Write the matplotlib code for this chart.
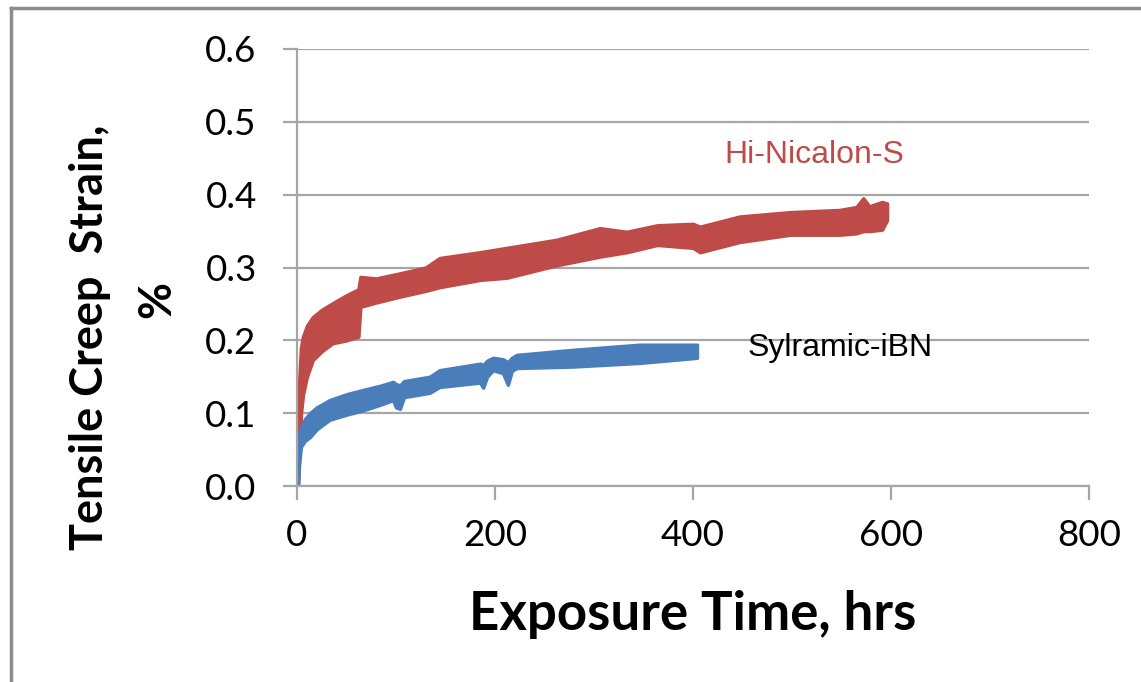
import matplotlib
matplotlib.use("Agg")
import matplotlib.pyplot as plt
from matplotlib.lines import Line2D

# Hi-Nicalon-S creep band (upper / lower envelope of noisy trace)
red_t = [0, 1, 2, 4, 6, 10, 16, 25, 36, 50, 62, 64, 80, 104, 130, 144, 185,
         212, 262, 306, 333, 364, 400, 407, 447, 498, 548, 565, 572, 578,
         591, 596]
red_hi = [0.0, 0.08, 0.14, 0.19, 0.205, 0.22, 0.232, 0.242, 0.251, 0.262,
          0.270, 0.287, 0.285, 0.292, 0.300, 0.313, 0.321, 0.327, 0.338,
          0.354, 0.349, 0.358, 0.360, 0.356, 0.370, 0.376, 0.379, 0.383,
          0.395, 0.384, 0.390, 0.388]
red_lo = [0.0, 0.0, 0.03, 0.10, 0.125, 0.15, 0.173, 0.185, 0.196, 0.200,
          0.205, 0.246, 0.252, 0.260, 0.268, 0.273, 0.283, 0.286, 0.303,
          0.315, 0.321, 0.331, 0.327, 0.321, 0.335, 0.345, 0.345, 0.347,
          0.350, 0.350, 0.352, 0.365]

# Sylramic-iBN creep band
blue_t = [0, 1, 2, 4, 8, 13, 20, 33, 50, 67, 85, 97, 100, 104, 108, 134,
          144, 185, 188, 192, 198, 208, 213, 217, 222, 279, 346, 404]
blue_hi = [0.0, 0.03, 0.07, 0.081, 0.092, 0.100, 0.108, 0.118, 0.126, 0.132,
           0.138, 0.143, 0.140, 0.138, 0.144, 0.150, 0.159, 0.168, 0.166,
           0.172, 0.176, 0.174, 0.170, 0.176, 0.180, 0.187, 0.194, 0.194]
blue_lo = [0.0, 0.0, 0.03, 0.054, 0.062, 0.067, 0.078, 0.091, 0.098, 0.104,
           0.112, 0.118, 0.108, 0.106, 0.122, 0.128, 0.136, 0.142, 0.135,
           0.150, 0.159, 0.155, 0.139, 0.158, 0.162, 0.164, 0.169, 0.176]

xticks = [0, 200, 400, 600, 800]
yticks = [0.0, 0.1, 0.2, 0.3, 0.4, 0.5, 0.6]

RED = "#BE4B48"
BLUE = "#4A7EBB"
GRID = "#A6A6A6"
W, H = 1141, 682

fig = plt.figure(figsize=(W / 100, H / 100), dpi=100)
ax = fig.add_axes([297 / W, 1 - 486 / H, 792 / W, 437 / H])

ax.fill_between(red_t, red_lo, red_hi, color=RED, lw=2.5, edgecolor=RED)
ax.fill_between(blue_t, blue_lo, blue_hi, color=BLUE, lw=2.5, edgecolor=BLUE)

ax.set_xlim(0, 800)
ax.set_ylim(0, 0.6)
ax.set_xticks(xticks)
ax.set_yticks(yticks)
ax.set_yticklabels([f"{v:.1f}" for v in yticks])
ax.grid(axis="y", color=GRID, lw=1.6)
ax.set_axisbelow(True)
for s in ["top", "right"]:
    ax.spines[s].set_visible(False)
for s in ["left", "bottom"]:
    ax.spines[s].set_color(GRID)
    ax.spines[s].set_linewidth(1.6)
ax.tick_params(axis="both", colors=GRID, width=1.6, length=10,
               labelcolor="black", labelsize=26.5)
ax.tick_params(axis="y", pad=19)
ax.tick_params(axis="x", pad=14)
for lab in ax.get_xticklabels() + ax.get_yticklabels():
    lab.set_family("Lato")

ax.set_xlabel("Exposure Time, hrs", family="Lato", fontweight="bold",
              fontsize=38, labelpad=27)

# y title: two lines placed separately, as in the original
fig.text(90 / W, 1 - 337 / H, "Tensile Creep  Strain,", family="Lato",
         fontweight="bold", fontsize=32.5, rotation=90,
         ha="center", va="center")
fig.text(157 / W, 1 - 299 / H, "%", family="Lato",
         fontweight="bold", fontsize=32.5, rotation=90,
         ha="center", va="center")

ax.text(523, 0.454, "Hi-Nicalon-S", color=RED, fontsize=23,
        family="Liberation Sans", ha="center", va="center")
ax.text(549, 0.189, "Sylramic-iBN", color="black", fontsize=23,
        family="Liberation Sans", ha="center", va="center")

# outer chart frame (only left and top edges visible)
fig.add_artist(Line2D([11 / W, 11 / W], [0, 1 - 8 / H],
                      color="#8C8C8C", lw=2.5))
fig.add_artist(Line2D([11 / W, 1], [1 - 8 / H, 1 - 8 / H],
                      color="#8C8C8C", lw=2.5))

fig.savefig("out.png", dpi=100)
